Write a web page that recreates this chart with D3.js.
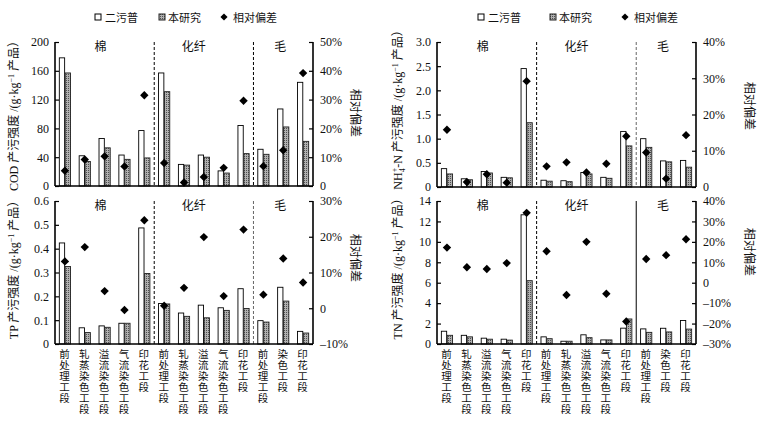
<!DOCTYPE html>
<html><head><meta charset="utf-8">
<script src="https://cdn.jsdelivr.net/npm/d3@7"></script>
<style>
body{margin:0;background:#fff;}
svg{display:block;}
text{font-family:"Liberation Serif","Noto Sans CJK SC",serif;fill:#111;}
.cjk{font-family:"Noto Sans CJK SC",sans-serif;}
.xc{font-family:"Liberation Serif","Noto Sans CJK SC",serif;}
</style></head>
<body><svg id="c" width="762" height="426"></svg>
<script>
const categories = ["前处理工段","轧蒸染色工段","溢流染色工段","气流染色工段","印花工段",
  "前处理工段","轧蒸染色工段","溢流染色工段","气流染色工段","印花工段",
  "前处理工段","染色工段","印花工段"];
const groups = ["棉","化纤","毛"];
const groupSizes = [5,5,3];
const legendLabels = ["二污普","本研究","相对偏差"];

const codCensus = [178,42,66,43,77,157,30,43,21,84,51,107,144];
const codStudy  = [157,34,53,37,39,131,29,40,18,45,44,82,62];
const codDev    = [5.3,9.2,10.3,6.8,31.5,8.0,1.2,3.1,6.3,29.6,6.9,12.4,39.2];

const tpCensus = [0.424,0.068,0.076,0.087,0.487,0.170,0.130,0.163,0.152,0.232,0.098,0.238,0.053];
const tpStudy  = [0.325,0.048,0.070,0.087,0.296,0.168,0.116,0.110,0.141,0.149,0.092,0.180,0.046];
const tpDev    = [13.1,17.1,4.8,-0.5,24.6,0.7,5.7,19.9,3.4,22.0,3.8,13.9,7.2];

const nhCensus = [0.38,0.17,0.32,0.20,2.45,0.14,0.13,0.30,0.20,1.15,1.00,0.54,0.55];
const nhStudy  = [0.27,0.15,0.29,0.19,1.33,0.12,0.11,0.27,0.18,0.85,0.82,0.52,0.41];
const nhDev    = [15.8,1.4,3.5,1.2,29.2,5.7,6.8,4.0,6.4,14.0,9.5,2.3,14.3];

const tnCensus = [1.25,0.85,0.57,0.47,12.65,0.70,0.27,0.90,0.40,1.55,1.48,1.54,2.30];
const tnStudy  = [0.85,0.70,0.47,0.38,6.20,0.52,0.27,0.62,0.40,2.45,1.14,1.18,1.46];
const tnDev    = [17.2,7.6,6.7,9.6,34.2,15.4,-6.0,20.0,-5.4,-19.0,11.6,13.5,21.3];

const codTicks = [0,40,80,120,160,200], codDevTicks=[0,10,20,30,40,50];
const tpTicks = [0,0.1,0.2,0.3,0.4,0.5,0.6], tpDevTicks=[-10,0,10,20,30];
const nhTicks = [0,0.5,1.0,1.5,2.0,2.5,3.0], nhDevTicks=[0,10,20,30,40];
const tnTicks = [0,2,4,6,8,10,12,14], tnDevTicks=[-30,-20,-10,0,10,20,30,40];

const svg = d3.select("#c");
const defs = svg.append("defs");
const pat = defs.append("pattern").attr("id","dots").attr("patternUnits","userSpaceOnUse")
  .attr("width",2).attr("height",2);
pat.append("rect").attr("width",2).attr("height",2).attr("fill","#b0b0b0");
pat.append("rect").attr("width",1).attr("height",1).attr("fill","#505050");

const diamond = "M0,-4.2L4.2,0L0,4.2L-4.2,0Z";
const fmtPct = v => v===0 ? "0" : (v<0 ? "\u2013"+Math.abs(v)+"%" : v+"%");

function panel(o){
  const g = svg.append("g");
  const idx = d3.range(categories.length);
  const x = d3.scaleBand().domain(idx).range([o.x0,o.x1]);
  const xi = d3.scaleBand().domain(["a","b"]).range([-5.6,5.6]).paddingInner(0.1);
  const y = d3.scaleLinear().domain(o.yDom).range([o.yB,o.yT]);
  const y2 = d3.scaleLinear().domain(o.y2Dom).range([o.yB,o.yT]);
  const cx = i => x(i)+x.bandwidth()/2;

  let acc=0;
  groupSizes.slice(0,-1).forEach((n,k)=>{
    acc+=n;
    const xx = x(acc);
    const st = o.div[k];
    g.append("line").attr("x1",xx).attr("x2",xx).attr("y1",o.yT).attr("y2",o.yB)
      .attr("stroke",st.c).attr("stroke-width",1)
      .attr("stroke-dasharray",st.d||null);
  });
  let start=0;
  groups.forEach((gn,k)=>{
    const a = x(start), b = x(start+groupSizes[k]-1)+x.bandwidth();
    g.append("text").attr("class","cjk").attr("x",(a+b)/2+o.gOff[k]).attr("y",o.yT+9)
      .attr("text-anchor","middle").attr("font-size",12).text(gn);
    start+=groupSizes[k];
  });
  g.selectAll(".b1").data(o.census).join("rect")
    .attr("x",(d,i)=>cx(i)+xi("a")).attr("width",xi.bandwidth())
    .attr("y",d=>y(d)).attr("height",d=>y(0)-y(d))
    .attr("fill","#fff").attr("stroke","#000").attr("stroke-width",0.9);
  g.selectAll(".b2").data(o.study).join("rect")
    .attr("x",(d,i)=>cx(i)+xi("b")).attr("width",xi.bandwidth())
    .attr("y",d=>y(d)).attr("height",d=>y(0)-y(d))
    .attr("fill","url(#dots)").attr("stroke","#222").attr("stroke-width",0.9);
  g.selectAll(".dm").data(o.dev).join("path")
    .attr("d",diamond).attr("fill","#000")
    .attr("transform",(d,i)=>`translate(${cx(i)},${y2(d)})`);
  const la = g.append("g").attr("transform",`translate(${o.x0},0)`)
    .call(d3.axisRight(y).tickValues(o.ticks).tickSize(4).tickFormat(o.fmt));
  la.selectAll("text").attr("x",-6).attr("text-anchor","end").attr("font-size",12)
    .attr("font-family","Liberation Serif").attr("fill","#111");
  const ra = g.append("g").attr("transform",`translate(${o.x1},0)`)
    .call(d3.axisLeft(y2).tickValues(o.devTicks).tickSize(4).tickFormat(fmtPct));
  ra.selectAll("text").attr("x",7).attr("text-anchor","start").attr("font-size",12)
    .attr("font-family","Liberation Serif").attr("fill","#111");
  [la,ra].forEach(a=>{a.select(".domain").attr("stroke","#000").attr("stroke-width",1.6)
      .attr("d",`M0,${o.yT}V${o.yB}`);
    a.selectAll(".tick line").attr("stroke","#000").attr("stroke-width",1.2);
  });
  g.append("line").attr("x1",o.x0).attr("x2",o.x1).attr("y1",o.yB).attr("y2",o.yB)
    .attr("stroke","#000").attr("stroke-width",1.4);
  if(o.xLabels){
    idx.forEach(i=>{
      Array.from(categories[i]).forEach((ch,j)=>{
        g.append("text").attr("class","xc").attr("font-size",10.5).attr("text-anchor","middle")
          .attr("x",cx(i)-0.5).attr("y",o.yB+13.5+j*11).text(ch);
      });
    });
  }
  const lt = g.append("text").attr("font-size",12).attr("text-anchor","middle")
    .attr("transform",`translate(${o.ltX},${o.ltY}) rotate(-90)`);
  o.ltParts(lt);
  lt.append("tspan").text(" 产污强度 /(g·kg");
  lt.append("tspan").attr("baseline-shift","super").attr("font-size",8).text("\u22121");
  lt.append("tspan").text(" 产品）");
  g.append("text").attr("class","cjk").attr("font-size",12).attr("text-anchor","middle")
    .attr("transform",`translate(${o.rtX},${o.rtY}) rotate(90)`).text("相对偏差");
}

const fmtInt = d=>String(d);
const fmtDec = d=> d===0 ? "0" : d3.format(".1f")(d);

panel({x0:55,x1:313,yT:42,yB:186,yDom:[0,200],y2Dom:[0,50],ticks:codTicks,devTicks:codDevTicks,
  census:codCensus,study:codStudy,dev:codDev,fmt:fmtInt,xLabels:false,
  div:[{c:"#000",d:"3,2"},{c:"#000",d:"3,2"}],gOff:[-4,-10,-3],
  ltX:18,ltY:113,ltParts:t=>t.append("tspan").text("COD"),rtX:351,rtY:113});
panel({x0:55,x1:313,yT:201,yB:344,yDom:[0,0.6],y2Dom:[-10,30],ticks:tpTicks,devTicks:tpDevTicks,
  census:tpCensus,study:tpStudy,dev:tpDev,fmt:fmtDec,xLabels:true,
  div:[{c:"#000",d:"3,2"},{c:"#666",d:"3,2"}],gOff:[-4,-10,-3],
  ltX:18,ltY:267,ltParts:t=>t.append("tspan").text("TP"),rtX:351,rtY:258});
panel({x0:437,x1:696,yT:42,yB:187,yDom:[0,3],y2Dom:[0,40],ticks:nhTicks,devTicks:nhDevTicks,
  census:nhCensus,study:nhStudy,dev:nhDev,fmt:fmtDec,xLabels:false,
  div:[{c:"#000",d:"3,2"},{c:"#666",d:"3,2"}],gOff:[-4,-10,-3],
  ltX:402,ltY:107,ltParts:t=>{t.append("tspan").text("NH");
    t.append("tspan").attr("font-size",8).attr("dy",3).text("4");
    t.append("tspan").attr("font-size",8).attr("dx",-4).attr("dy",-8).text("+");
    t.append("tspan").attr("dy",5).text("-N");},
  rtX:745,rtY:106});
panel({x0:437,x1:696,yT:201,yB:344,yDom:[0,14],y2Dom:[-30,40],ticks:tnTicks,devTicks:tnDevTicks,
  census:tnCensus,study:tnStudy,dev:tnDev,fmt:fmtInt,xLabels:true,
  div:[{c:"#000",d:"3,2"},{c:"#000",d:null}],gOff:[-4,-10,-3],
  ltX:402,ltY:266,ltParts:t=>t.append("tspan").text("TN"),rtX:745,rtY:252});

function legend(pos){
  const g = svg.append("g");
  g.append("rect").attr("x",pos[0]-3).attr("y",14).attr("width",6).attr("height",6)
    .attr("fill","#fff").attr("stroke","#000").attr("stroke-width",1);
  g.append("text").attr("class","cjk").attr("x",pos[0]+7).attr("y",21.5).attr("font-size",11).text(legendLabels[0]);
  g.append("rect").attr("x",pos[1]-3).attr("y",14).attr("width",6).attr("height",6)
    .attr("fill","url(#dots)").attr("stroke","#222").attr("stroke-width",1);
  g.append("text").attr("class","cjk").attr("x",pos[1]+6).attr("y",21.5).attr("font-size",11).text(legendLabels[1]);
  g.append("path").attr("d",diamond).attr("transform",`translate(${pos[2]},17) scale(0.85)`).attr("fill","#000");
  g.append("text").attr("class","cjk").attr("x",pos[2]+9).attr("y",21.5).attr("font-size",11).text(legendLabels[2]);
}
legend([98,162,224]);
legend([481,553,625]);
</script></body></html>
